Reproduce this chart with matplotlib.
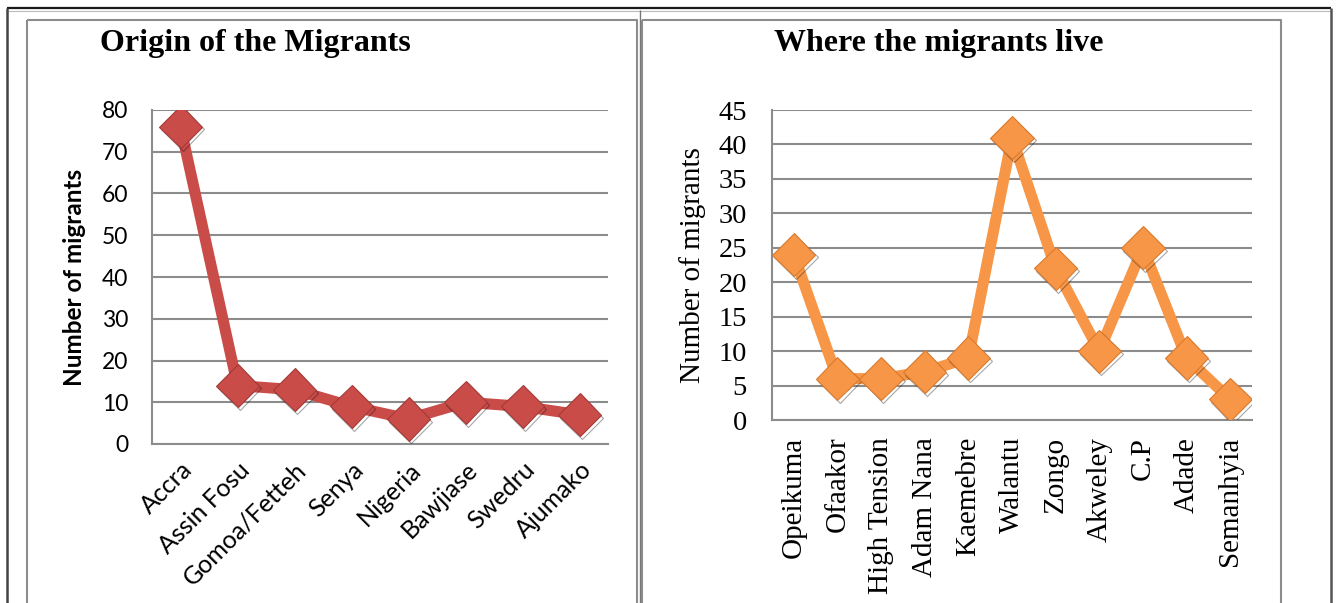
import matplotlib
matplotlib.use("Agg")
import matplotlib.pyplot as plt
from matplotlib.lines import Line2D
import matplotlib.patheffects as pe

# ---- data ----
origins = ["Accra", "Assin Fosu", "Gomoa/Fetteh", "Senya", "Nigeria",
           "Bawjiase", "Swedru", "Ajumako"]
origin_counts = [76, 14, 13, 9, 6, 10, 9, 7]

areas = ["Opeikuma", "Ofaakor", "High Tension", "Adam Nana", "Kaemebre",
         "Walantu", "Zongo", "Akweley", "C.P", "Adade", "Semanhyia"]
area_counts = [24, 6, 6, 7, 9, 41, 22, 10, 25, 9, 3]

W, H = 1338, 603
fig = plt.figure(figsize=(W / 100, H / 100), dpi=100)
fig.patch.set_facecolor("white")


def px_box(left, top, right, bottom):
    return [left / W, 1 - bottom / H, (right - left) / W, (bottom - top) / H]


def fx(x):
    return x / W


def fy(y):
    return 1 - y / H


def fig_line(xs, ys, color, lw):
    fig.add_artist(Line2D([fx(v) for v in xs], [fy(v) for v in ys],
                          color=color, lw=lw, transform=fig.transFigure,
                          solid_capstyle="butt"))


# page border and chart frames
fig_line([7, 1331], [8, 8], "#1a1a1a", 1.6)
fig_line([7, 1331], [10.5, 10.5], "#bbbbbb", 0.8)
fig_line([7, 7], [8, 603], "#444444", 1.8)
fig_line([1331, 1331], [8, 603], "#555555", 1.8)
fig_line([640, 640], [10, 603], "#777777", 1.0)
for (l, r) in [(27, 637), (642, 1281)]:
    fig_line([l, r, r], [19.5, 19.5, 603], "#8c8c8c", 1.5)
    fig_line([l, l], [19.5, 603], "#8c8c8c", 1.5)

grid_col = "#8c8c8c"


def style_axes(ax):
    ax.set_facecolor("white")
    for s in ["top", "right"]:
        ax.spines[s].set_visible(False)
    for s in ["left", "bottom"]:
        ax.spines[s].set_color(grid_col)
        ax.spines[s].set_linewidth(1.5)
    ax.yaxis.grid(True, color=grid_col, lw=1.5)
    ax.set_axisbelow(True)
    ax.tick_params(length=0)


def draw_series(ax, values, color, dark):
    x = range(len(values))
    ax.plot(x, values, color=color, lw=8, solid_joinstyle="round", zorder=3)
    ax.plot(x, values, ls="none", marker="D", ms=22, mfc=color,
            mec=dark, mew=0.8, zorder=4,
            path_effects=[pe.SimpleLineShadow(offset=(1.5, -2), alpha=0.35,
                                              shadow_color="#000000"),
                          pe.Normal()])


# ---- left chart: origin ----
sans = ["Lato", "DejaVu Sans"]
ax1 = fig.add_axes(px_box(152, 110, 608, 444))
style_axes(ax1)
draw_series(ax1, origin_counts, "#c94c49", "#a33a37")
ax1.set_xlim(-0.5, len(origins) - 0.5)
ax1.set_ylim(0, 80)
ax1.set_yticks(range(0, 81, 10))
ax1.set_xticks(range(len(origins)))
ax1.set_xticklabels(origins, rotation=45, ha="right", va="top",
                    rotation_mode="anchor", family=sans, fontsize=18)
for lab in ax1.get_yticklabels():
    lab.set_family(sans)
    lab.set_fontsize(16.5)
ax1.tick_params(axis="y", pad=17)
ax1.tick_params(axis="x", pad=10)
ax1.set_ylabel("Number of migrants", family=sans, fontsize=17.5,
               fontweight="bold")
ax1.yaxis.set_label_coords(-0.145, 0.5)
fig.text(fx(255), fy(43), "Origin of the Migrants", family="Liberation Serif",
         fontsize=23, fontweight="bold", ha="center", va="center")

# ---- right chart: residence ----
serif = ["Liberation Serif", "DejaVu Serif"]
ax2 = fig.add_axes(px_box(772, 110, 1252, 420))
style_axes(ax2)
draw_series(ax2, area_counts, "#f79646", "#d97a2e")
ax2.set_xlim(-0.5, len(areas) - 0.5)
ax2.set_ylim(0, 45)
ax2.set_yticks(range(0, 46, 5))
ax2.set_xticks(range(len(areas)))
ax2.set_xticklabels(areas, rotation=90, ha="center", va="top",
                    family=serif, fontsize=21)
for lab in ax2.get_yticklabels():
    lab.set_family(serif)
    lab.set_fontsize(20.5)
ax2.tick_params(axis="y", pad=18)
ax2.tick_params(axis="x", pad=12)
ax2.set_ylabel("Number of migrants", family=serif, fontsize=21)
ax2.yaxis.set_label_coords(-0.1375, 0.5)
fig.text(fx(939), fy(43), "Where the migrants live", family="Liberation Serif",
         fontsize=23, fontweight="bold", ha="center", va="center")

fig.savefig("out.png", dpi=100, facecolor="white")
